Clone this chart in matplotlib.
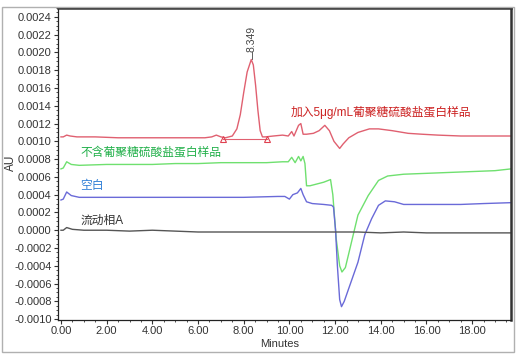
import matplotlib
matplotlib.use("Agg")
import matplotlib.pyplot as plt
from matplotlib.ticker import MultipleLocator, FormatStrFormatter
from matplotlib.patches import Rectangle

plt.rcParams["font.family"] = ["Liberation Sans", "Noto Sans CJK SC", "DejaVu Sans"]

# spiked sample (red)
red_t = [0, 0.1, 0.25, 0.4, 0.7, 1.5, 2.5, 3.5, 4.5, 5.5, 6.3, 6.6, 6.8, 7.0, 7.2,
         7.5, 7.7, 7.85, 8.0, 8.15, 8.33, 8.42, 8.52, 8.62, 8.72, 8.82, 8.95, 9.3,
         9.7, 9.95, 10.1, 10.2, 10.4, 10.5, 10.6, 10.75, 11.05, 11.3, 11.55, 11.75,
         11.95, 12.2, 12.35, 12.6, 13.0, 13.5, 13.9, 14.5, 15.2, 15.8, 16.5, 17.5,
         18.5, 19.7]
red_v = [0.00105, 0.00105, 0.00107, 0.00106, 0.00105, 0.00105, 0.00104, 0.00104,
         0.00104, 0.00104, 0.00104, 0.00105, 0.00107, 0.00105, 0.00104, 0.00106,
         0.00114, 0.00130, 0.00155, 0.00178, 0.00192, 0.00186, 0.00163, 0.00135,
         0.00112, 0.00105, 0.00105, 0.00106, 0.00107, 0.00106, 0.00111, 0.00106,
         0.00118, 0.00120, 0.00108, 0.00108, 0.00109, 0.00112, 0.00118, 0.00112,
         0.00100, 0.00092, 0.00097, 0.00104, 0.00110, 0.00114, 0.00114, 0.00112,
         0.00109, 0.00108, 0.00107, 0.00106, 0.00106, 0.00106]

# sample without dextran sulfate (green)
green_t = [0, 0.1, 0.25, 0.45, 0.8, 2, 3, 4, 5, 6, 7, 8, 9, 9.7, 9.95, 10.1, 10.25,
           10.4, 10.5, 10.6, 10.68, 10.75, 10.9, 11.2, 11.5, 11.8, 11.9, 12.05, 12.2,
           12.3, 12.45, 12.6, 13.0, 13.45, 13.9, 14.3, 15.0, 16, 17, 18, 19, 19.7]
green_v = [0.00069, 0.00070, 0.00077, 0.00074, 0.00073, 0.00074, 0.00074, 0.00074,
           0.00075, 0.00075, 0.00076, 0.00076, 0.00076, 0.00077, 0.00077, 0.00082,
           0.00076, 0.00083, 0.00078, 0.00083, 0.00075, 0.00050, 0.00050, 0.00052,
           0.00054, 0.00057, 0.00040, -0.00010, -0.00040, -0.00047, -0.00042,
           -0.00026, 0.00017, 0.00039, 0.00056, 0.00061, 0.00063, 0.00064, 0.00065,
           0.00066, 0.00067, 0.00069]

# blank (blue)
blue_t = [0, 0.1, 0.25, 0.45, 0.8, 2, 4, 6, 8, 9.5, 9.8, 10.0, 10.15, 10.35, 10.5,
          10.6, 10.75, 11.0, 11.5, 11.85, 11.93, 12.02, 12.1, 12.2, 12.28, 12.4,
          12.7, 13.0, 13.3, 13.6, 13.9, 14.2, 14.6, 15.0, 15.5, 16.5, 17.5, 18.5, 19.7]
blue_v = [0.00034, 0.00035, 0.00043, 0.00039, 0.00037, 0.00037, 0.00037, 0.00037,
          0.00037, 0.00038, 0.00038, 0.00035, 0.00040, 0.00042, 0.00047, 0.00040,
          0.00032, 0.00030, 0.00029, 0.00028, 0.00026, 0.00000, -0.00040, -0.00078,
          -0.00086, -0.00080, -0.00058, -0.00036, -0.00005, 0.00013, 0.00028,
          0.00033, 0.00032, 0.00029, 0.00029, 0.00029, 0.00029, 0.00030, 0.00031]

# mobile phase A (black)
black_t = [0, 0.1, 0.25, 0.5, 1, 2, 3, 4, 5, 6, 7, 8, 9, 10, 11, 12, 13, 14, 15,
           16, 17, 18, 19, 19.7]
black_v = [0.0, 0.0, 0.00003, 0.00001, 0.0, 0.0, -0.00001, 0.0, -0.00001, -0.00002,
           -0.00002, -0.00002, -0.00002, -0.00002, -0.00002, -0.00002, -0.00002,
           -0.00003, -0.00002, -0.00003, -0.00003, -0.00003, -0.00003, -0.00003]

peak_rt = 8.349
peak_top = 0.00193
peak_base_t = [7.1, 9.0]
peak_base_v = [0.00103, 0.00103]

labels = ["加入5μg/mL葡聚糖硫酸盐蛋白样品", "不含葡聚糖硫酸盐蛋白样品", "空白", "流动相A"]
label_pos = [(10.05, 0.00132), (0.85, 0.00087), (0.85, 0.00050), (0.85, 0.00010)]
label_col = ["#cc2222", "#22b04a", "#2f7fd6", "#333333"]

fig = plt.figure(figsize=(5.18, 3.57), dpi=100)
fig.patches.append(Rectangle((2 / 518, 5 / 357), 512 / 518, 345 / 357,
                             transform=fig.transFigure, fill=False,
                             edgecolor="#b0b0b0", linewidth=1))
ax = fig.add_axes([58 / 518, 1 - 320 / 357, 453 / 518, 312 / 357])

ax.plot(red_t, red_v, color="#e06070", lw=1)
ax.plot(peak_base_t, peak_base_v, color="#e06070", lw=0.8)
ax.plot(peak_base_t, peak_base_v, ls="none", marker="^", ms=4, mfc="none",
        mec="#e04050", mew=0.8)
ax.plot(green_t, green_v, color="#6fe06f", lw=1)
ax.plot(blue_t, blue_v, color="#6a6ad8", lw=1)
ax.plot(black_t, black_v, color="#555555", lw=1)

ax.plot([peak_rt, peak_rt], [peak_top, peak_top + 0.00007], color="#444444", lw=0.6)
ax.text(peak_rt, peak_top + 0.00008, f"{peak_rt:.3f}", rotation=90, ha="center",
        va="bottom", fontsize=7.5, color="#444444")

for txt, (x, y), c in zip(labels, label_pos, label_col):
    ax.text(x, y, txt, fontsize=8.5, color=c, va="center", ha="left")

ax.set_xlim(-0.13, 19.7)
ax.set_ylim(-0.00101, 0.0025)
ax.xaxis.set_major_locator(MultipleLocator(2))
ax.xaxis.set_minor_locator(MultipleLocator(0.5))
ax.yaxis.set_major_locator(MultipleLocator(0.0002))
ax.yaxis.set_minor_locator(MultipleLocator(0.00005))
ax.xaxis.set_major_formatter(FormatStrFormatter("%.2f"))
ax.yaxis.set_major_formatter(FormatStrFormatter("%.4f"))
ax.tick_params(axis="both", which="major", labelsize=8, length=3, width=0.8,
               colors="#333333", pad=1.5)
ax.tick_params(axis="both", which="minor", length=1.5, width=0.6, colors="#333333")

for s in ["left", "bottom"]:
    ax.spines[s].set_linewidth(0.9)
    ax.spines[s].set_color("#222222")
for s in ["top", "right"]:
    ax.spines[s].set_linewidth(1.8)
    ax.spines[s].set_color("#333333")

ax.set_xlabel("Minutes", fontsize=8, color="#333333")
ax.set_ylabel("AU", fontsize=8.5, color="#333333")
ax.xaxis.set_label_coords(0.49, -0.062)
ax.yaxis.set_label_coords(-0.09, 0.503)

fig.savefig("out.png", dpi=100)
